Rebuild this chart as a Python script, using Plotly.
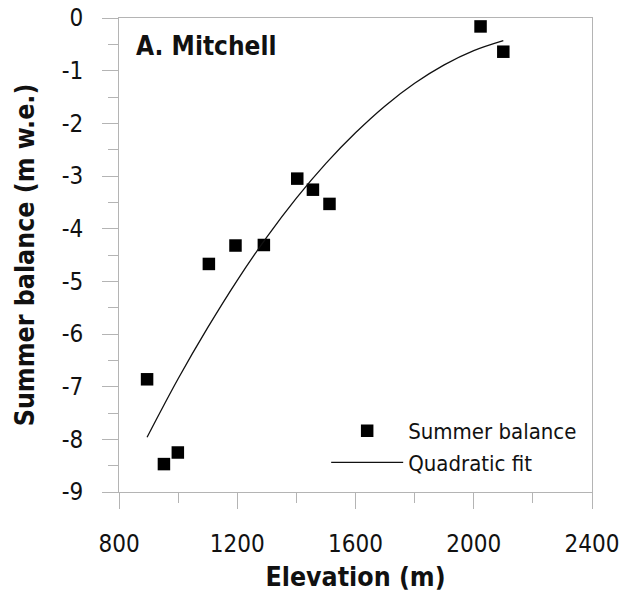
import plotly.graph_objects as go

# Observed summer balance by elevation
elevation = [895, 952, 999, 1104, 1194, 1290, 1403, 1456, 1512, 2023, 2100]
summer_balance = [-6.86, -8.47, -8.25, -4.67, -4.32, -4.31, -3.05, -3.26, -3.53, -0.16, -0.64]

# Quadratic fit curve
fit_elevation = [895, 1000, 1100, 1200, 1300, 1400, 1500, 1600, 1700, 1800, 1900, 2000, 2100]
fit_balance = [-7.96, -6.85, -5.88, -4.98, -4.16, -3.42, -2.76, -2.18, -1.67, -1.24, -0.89, -0.62, -0.43]

x_ticks = [800, 1200, 1600, 2000, 2400]
y_ticks = [0, -1, -2, -3, -4, -5, -6, -7, -8, -9]

FONT = "DejaVu Sans Condensed, DejaVu Sans, sans-serif"
AXIS_GREY = "#b4b4b4"
TEXT = "#111111"

fig = go.Figure()
fig.add_trace(go.Scatter(
    x=elevation, y=summer_balance, mode="markers", name="Summer balance",
    marker=dict(symbol="square", size=12.5, color="black"),
))
fig.add_trace(go.Scatter(
    x=fit_elevation, y=fit_balance, mode="lines", name="Quadratic fit",
    line=dict(color=TEXT, width=1.3, shape="spline"),
))

fig.update_layout(
    width=623, height=598,
    margin=dict(l=118.5, r=31.3, t=18.3, b=106.3),
    paper_bgcolor="white", plot_bgcolor="white",
    font=dict(family=FONT, size=24, color=TEXT),
    showlegend=True,
    legend=dict(
        x=0.438, y=0.017, xanchor="left", yanchor="bottom",
        bgcolor="rgba(0,0,0,0)", font=dict(size=22, color=TEXT),
        itemwidth=72, tracegroupgap=0,
    ),
    annotations=[dict(
        text="<b>A. Mitchell</b>", xref="paper", yref="paper",
        x=0.031, y=0.976, xanchor="left", yanchor="top", showarrow=False,
        font=dict(family=FONT, size=26, color=TEXT),
    )],
)

fig.update_xaxes(
    range=[800, 2400], tickvals=x_ticks, ticktext=[str(v) for v in x_ticks],
    showgrid=False, zeroline=False, automargin=False,
    showline=True, linecolor=AXIS_GREY, linewidth=1, mirror=True,
    ticks="outside", ticklen=16, tickcolor=AXIS_GREY, tickwidth=1,
    minor=dict(dtick=200, ticks="outside", ticklen=10, tickcolor=AXIS_GREY, tickwidth=1, showgrid=False),
    ticklabelstandoff=14,
    title=dict(text="<b>Elevation (m)</b>", font=dict(size=26.5), standoff=10),
)
fig.update_yaxes(
    range=[-9, 0], tickvals=y_ticks, ticktext=[str(v) for v in y_ticks],
    showgrid=False, zeroline=False, automargin=False,
    showline=True, linecolor=AXIS_GREY, linewidth=1, mirror=True,
    ticks="outside", ticklen=16, tickcolor=AXIS_GREY, tickwidth=1,
    minor=dict(dtick=0.5, ticks="outside", ticklen=10, tickcolor=AXIS_GREY, tickwidth=1, showgrid=False),
    ticklabelstandoff=14,
    title=dict(text="<b>Summer balance (m w.e.)</b>", font=dict(size=26.5), standoff=19),
)

# remove the default 8px page margin so the figure sits at the window's corner
fig.write_html(
    "out.html",
    config={"displayModeBar": False},
    post_script="document.body.style.margin='0';",
)
